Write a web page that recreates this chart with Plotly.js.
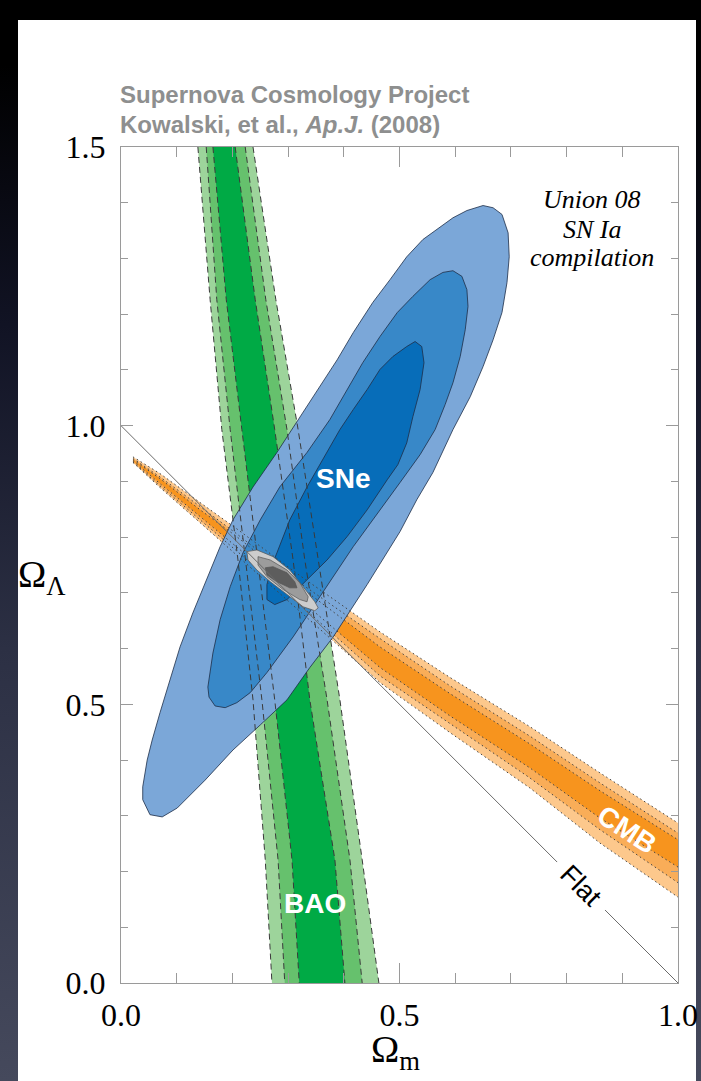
<!DOCTYPE html>
<html><head><meta charset="utf-8">
<script src="https://cdn.plot.ly/plotly-3.0.1.min.js"></script>
<style>
html,body{margin:0;padding:0;}
body{width:701px;height:1081px;overflow:hidden;position:relative;
background:linear-gradient(to bottom,#000 0%,#000 6%,#111324 30%,#2c3044 60%,#45495c 100%);}
#panel{position:absolute;left:18px;top:20px;width:678px;height:1061px;background:#fff;}
#plot{position:absolute;left:0;top:0;width:701px;height:1081px;}
</style></head><body><div id="panel"></div><div id="plot"></div>
<script>
// ---- SNe (Union 08) confidence contours ----
const snOuterX = [0.650,0.668,0.684,0.695,0.697,0.693,0.684,0.668,0.650,0.627,0.596,0.560,0.531,0.501,0.442,0.381,0.339,0.298,0.250,0.201,0.151,0.101,0.074,0.052,0.039,0.039,0.047,0.056,0.070,0.088,0.106,0.129,0.154,0.178,0.201,0.237,0.280,0.318,0.357,0.388,0.417,0.452,0.483,0.513,0.542,0.573,0.596,0.621];
const snOuterY = [1.395,1.391,1.379,1.346,1.303,1.257,1.203,1.154,1.106,1.052,0.993,0.916,0.867,0.810,0.715,0.621,0.566,0.508,0.463,0.418,0.364,0.314,0.298,0.302,0.329,0.352,0.400,0.436,0.485,0.544,0.603,0.664,0.724,0.783,0.831,0.890,0.952,1.011,1.070,1.118,1.167,1.221,1.262,1.303,1.334,1.357,1.373,1.386];
const snMidX = [0.596,0.612,0.621,0.623,0.618,0.609,0.596,0.582,0.564,0.537,0.501,0.478,0.417,0.357,0.309,0.262,0.232,0.208,0.187,0.169,0.158,0.156,0.165,0.178,0.196,0.219,0.250,0.285,0.334,0.375,0.406,0.434,0.465,0.496,0.524,0.555,0.578];
const snMidY = [1.278,1.268,1.244,1.214,1.172,1.124,1.077,1.038,0.993,0.948,0.898,0.867,0.783,0.693,0.621,0.557,0.521,0.503,0.494,0.497,0.513,0.531,0.592,0.652,0.711,0.772,0.831,0.890,0.952,1.011,1.065,1.113,1.160,1.203,1.232,1.262,1.275];
const snInX = [0.528,0.540,0.544,0.537,0.524,0.513,0.497,0.478,0.442,0.406,0.370,0.334,0.298,0.276,0.262,0.262,0.271,0.280,0.303,0.334,0.370,0.393,0.417,0.442,0.465,0.488,0.513];
const snInY = [1.151,1.142,1.113,1.065,1.016,0.969,0.930,0.903,0.849,0.801,0.759,0.724,0.688,0.679,0.688,0.715,0.750,0.772,0.831,0.890,0.952,0.993,1.029,1.065,1.101,1.124,1.142];

// ---- BAO band: edge positions (Omega_m) at given Omega_Lambda levels ----
const baoY      = [1.5, 1.226, 0.993, 0.759, 0.508, 0.221, 0.0];
const baoLightL = [0.138,0.160,0.181,0.210,0.237,0.259,0.271];
const baoMidL   = [0.153,0.172,0.196,0.224,0.253,0.282,0.294];
const baoDarkL  = [0.165,0.189,0.217,0.246,0.276,0.307,0.320];
const baoDarkR  = [0.205,0.241,0.276,0.309,0.339,0.384,0.402];
const baoMidR   = [0.223,0.260,0.298,0.330,0.370,0.411,0.433];
const baoLightR = [0.237,0.278,0.318,0.354,0.393,0.433,0.463];

// ---- CMB band: edge positions (Omega_Lambda) at given Omega_m ----
const cmbX      = [0.0215,0.070,0.142,0.205,0.321,0.465,0.591,0.734,0.860,1.0];
const cmbLightT = [0.944,0.914,0.862,0.817,0.731,0.630,0.548,0.460,0.377,0.287];
const cmbMidT   = [0.941,0.908,0.855,0.808,0.718,0.618,0.533,0.443,0.359,0.269];
const cmbDarkT  = [0.939,0.905,0.849,0.803,0.711,0.603,0.519,0.429,0.345,0.257];
const cmbDarkB  = [0.937,0.896,0.837,0.785,0.688,0.566,0.479,0.386,0.296,0.208];
const cmbMidB   = [0.935,0.892,0.831,0.777,0.679,0.551,0.465,0.368,0.275,0.180];
const cmbLightB = [0.934,0.889,0.826,0.770,0.668,0.539,0.449,0.350,0.251,0.154];

// ---- Combined contours ----
const combOuterX = [0.226,0.244,0.273,0.303,0.327,0.348,0.354,0.348,0.327,0.298,0.268,0.244,0.228];
const combOuterY = [0.774,0.777,0.765,0.741,0.711,0.684,0.673,0.668,0.675,0.697,0.720,0.741,0.759];
const combMidX = [0.246,0.268,0.298,0.321,0.336,0.334,0.321,0.291,0.262,0.246];
const combMidY = [0.765,0.759,0.741,0.718,0.693,0.684,0.688,0.706,0.729,0.750];
const combInX = [0.259,0.273,0.298,0.312,0.316,0.303,0.280,0.262];
const combInY = [0.745,0.747,0.736,0.720,0.709,0.709,0.720,0.732];

// ---- Flat universe line (broken around its label) ----
const flatX1 = [0.0, 0.783];
const flatX2 = [0.869, 1.0];

const traces = [];
function closed(a){ return a.concat([a[0]]); }
function polyFill(x, y, color, lineColor, lw){
  traces.push({type:'scatter', mode:'lines', x:x, y:y, fill:'toself', fillcolor:color,
    line:{color: lineColor || 'rgba(0,0,0,0)', width: lw || 0}, hoverinfo:'skip', showlegend:false});
}
function band(left, right, ys, color){
  polyFill(left.concat(right.slice().reverse()), ys.concat(ys.slice().reverse()), color);
}
function bandH(top, bottom, xs, color){
  polyFill(xs.concat(xs.slice().reverse()), top.concat(bottom.slice().reverse()), color);
}
function edge(x, y, dash, color){
  traces.push({type:'scatter', mode:'lines', x:x, y:y, line:{color:color, width:1, dash:dash},
    hoverinfo:'skip', showlegend:false});
}

// BAO fills
band(baoLightL, baoLightR, baoY, '#9dd49b');
band(baoMidL, baoMidR, baoY, '#66c16d');
band(baoDarkL, baoDarkR, baoY, '#00aa45');
// CMB fills
bandH(cmbLightT, cmbLightB, cmbX, '#fdc88c');
bandH(cmbMidT, cmbMidB, cmbX, '#f9ad58');
bandH(cmbDarkT, cmbDarkB, cmbX, '#f7941e');
// SNe fills
const snLine = '#1d2d48';
polyFill(closed(snOuterX), closed(snOuterY), '#7ba7d8', snLine, 0.8);
polyFill(closed(snMidX), closed(snMidY), '#3888c8', snLine, 0.8);
polyFill(closed(snInX), closed(snInY), '#076db9', snLine, 0.8);
// BAO dashed edges
[baoLightL, baoMidL, baoDarkL, baoDarkR, baoMidR, baoLightR].forEach(e => edge(e, baoY, '6px,4px', '#3a3a3a'));
// CMB dotted edges
[cmbLightT, cmbMidT, cmbDarkT, cmbDarkB, cmbMidB, cmbLightB].forEach(e => edge(cmbX, e, '1.5px,3px', '#444'));
// combined
const gLine = '#555';
polyFill(closed(combOuterX), closed(combOuterY), '#cdcdcd', gLine, 0.7);
polyFill(closed(combMidX), closed(combMidY), '#9c9c9c', gLine, 0.7);
polyFill(closed(combInX), closed(combInY), '#5d5d5d', gLine, 0.7);
// Flat line
traces.push({type:'scatter', mode:'lines', x:flatX1, y:flatX1.map(v=>1-v), line:{color:'#6a6a6a', width:1}, hoverinfo:'skip', showlegend:false});
traces.push({type:'scatter', mode:'lines', x:flatX2, y:flatX2.map(v=>1-v), line:{color:'#6a6a6a', width:1}, hoverinfo:'skip', showlegend:false});

const serif = 'Liberation Serif, Times New Roman, serif';
const sans = 'Liberation Sans, Arial, sans-serif';
const axCommon = {
  showline:true, linecolor:'#9a9a9a', linewidth:1, mirror:'ticks', showgrid:false, zeroline:false,
  ticks:'inside', tickcolor:'#9a9a9a', tickwidth:1, dtick:0.5, tick0:0, tickformat:'.1f',
  tickfont:{family:serif, size:32, color:'#000'}, fixedrange:true
};
const layout = {
  width:701, height:1081,
  margin:{l:121, r:23, t:147, b:98},
  paper_bgcolor:'rgba(0,0,0,0)', plot_bgcolor:'#fff',
  showlegend:false, hovermode:false,
  xaxis:Object.assign({}, axCommon, {range:[0,1], ticklen:20, ticklabelstandoff:4,
     minor:{dtick:0.1, ticks:'inside', ticklen:10, tickcolor:'#9a9a9a', tickwidth:1}}),
  yaxis:Object.assign({}, axCommon, {range:[0,1.5], ticklen:12, ticklabelstandoff:8,
     minor:{dtick:0.1, ticks:'inside', ticklen:7, tickcolor:'#9a9a9a', tickwidth:1}}),
  annotations:[
    {xref:'paper', yref:'paper', x:-0.006, y:1.063, xanchor:'left', yanchor:'middle', showarrow:false,
     text:'<b>Supernova Cosmology Project</b>', font:{family:sans, size:24, color:'#8e8f8f'}},
    {xref:'paper', yref:'paper', x:-0.006, y:1.027, xanchor:'left', yanchor:'middle', showarrow:false,
     text:'<b>Kowalski, et al., <i>Ap.J.</i> (2008)</b>', font:{family:sans, size:24, color:'#8e8f8f'}},
    {x:0.846, y:1.406, showarrow:false, text:'<i>Union 08</i>', font:{family:serif, size:26, color:'#000'}},
    {x:0.846, y:1.352, showarrow:false, text:'<i>SN Ia</i>', font:{family:serif, size:26, color:'#000'}},
    {x:0.846, y:1.302, showarrow:false, text:'<i>compilation</i>', font:{family:serif, size:26, color:'#000'}},
    {x:0.399, y:0.905, showarrow:false, text:'<b>SNe</b>', font:{family:sans, size:28, color:'#fff'}},
    {x:0.348, y:0.142, showarrow:false, text:'<b>BAO</b>', font:{family:sans, size:28, color:'#fff'}},
    {x:0.908, y:0.275, showarrow:false, text:'<b>CMB</b>', textangle:33, font:{family:sans, size:28, color:'#fff'}},
    {x:0.826, y:0.174, showarrow:false, text:'Flat', textangle:45, font:{family:sans, size:27, color:'#000'}},
    {xref:'paper', yref:'paper', x:0.492, y:-0.0825, xanchor:'center', yanchor:'middle', showarrow:false,
     text:'Ω<sub>m</sub>', font:{family:serif, size:38, color:'#000'}},
    {xref:'paper', yref:'paper', x:-0.142, y:0.486, xanchor:'center', yanchor:'middle', showarrow:false,
     text:'Ω<sub>Λ</sub>', font:{family:serif, size:38, color:'#000'}}
  ]
};
Plotly.newPlot('plot', traces, layout, {staticPlot:true, displayModeBar:false});
</script></body></html>
